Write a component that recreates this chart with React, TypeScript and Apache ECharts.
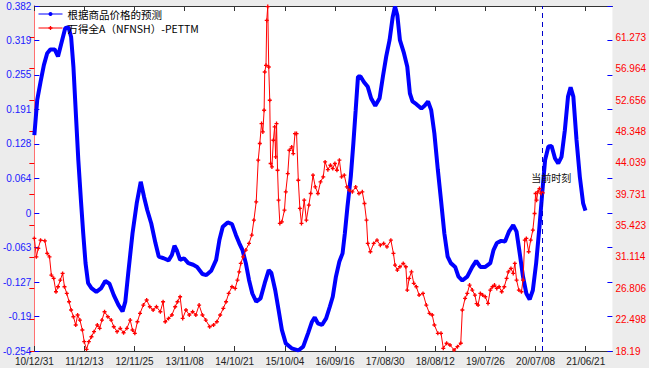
import React, { useEffect, useRef } from "react";
import * as echarts from "echarts";

// x values are days since 2010-12-31
const START_UTC = Date.UTC(2010, 11, 31);
const xTickLabels = ["10/12/31", "11/12/13", "12/11/25", "13/11/08", "14/10/21", "15/10/04", "16/09/16", "17/08/30", "18/08/12", "19/07/26", "20/07/08", "21/06/21"];
const leftTicks = [-0.254, -0.19, -0.127, -0.063, 0, 0.064, 0.128, 0.191, 0.255, 0.319, 0.382];
const rightTicks = [18.19, 22.498, 26.806, 31.114, 35.423, 39.731, 44.039, 48.348, 52.656, 56.964, 61.273];
const seriesNames = ["根据商品价格的预测", "万得全A（NFNSH）-PETTM"];
const currentDay = 3523;
const currentLabel = "当前时刻";

const blueDay = [0, 20, 43, 66, 89, 112, 141, 164, 187, 214, 237, 255, 271, 289, 305, 323, 339, 355, 373, 396, 430, 464, 492, 521, 551, 583, 612, 631, 651, 681, 710, 738, 761, 783, 811, 840, 863, 897, 931, 954, 972, 988, 1011, 1038, 1068, 1102, 1129, 1166, 1193, 1227, 1261, 1284, 1307, 1341, 1371, 1398, 1421, 1444, 1467, 1489, 1512, 1539, 1569, 1598, 1626, 1644, 1671, 1694, 1717, 1744, 1785, 1831, 1865, 1899, 1926, 1945, 1967, 1995, 2024, 2050, 2070, 2092, 2116, 2138, 2154, 2172, 2195, 2213, 2229, 2245, 2263, 2286, 2313, 2336, 2365, 2395, 2418, 2441, 2464, 2486, 2502, 2518, 2536, 2564, 2587, 2605, 2623, 2650, 2685, 2707, 2731, 2753, 2775, 2799, 2821, 2844, 2867, 2889, 2919, 2942, 2969, 3003, 3038, 3065, 3094, 3128, 3163, 3185, 3208, 3238, 3265, 3292, 3322, 3345, 3367, 3390, 3413, 3436, 3458, 3481, 3504, 3523, 3543, 3566, 3588, 3612, 3634, 3657, 3680, 3702, 3720, 3739, 3761, 3784, 3807, 3823];
const blueVal = [0.144, 0.209, 0.242, 0.273, 0.295, 0.302, 0.302, 0.289, 0.313, 0.341, 0.343, 0.325, 0.27, 0.178, 0.098, 0.024, -0.037, -0.092, -0.129, -0.138, -0.145, -0.138, -0.125, -0.13, -0.151, -0.169, -0.181, -0.163, -0.111, -0.037, 0.018, 0.058, 0.03, 0.006, -0.019, -0.055, -0.08, -0.083, -0.087, -0.077, -0.06, -0.068, -0.086, -0.083, -0.092, -0.095, -0.099, -0.112, -0.114, -0.106, -0.086, -0.049, -0.025, -0.017, -0.02, -0.04, -0.055, -0.068, -0.092, -0.123, -0.148, -0.163, -0.157, -0.129, -0.105, -0.11, -0.142, -0.178, -0.215, -0.24, -0.249, -0.253, -0.246, -0.221, -0.2, -0.192, -0.203, -0.206, -0.194, -0.172, -0.154, -0.117, -0.089, -0.074, -0.037, 0.012, 0.067, 0.129, 0.19, 0.252, 0.252, 0.242, 0.233, 0.212, 0.198, 0.212, 0.252, 0.289, 0.319, 0.362, 0.381, 0.365, 0.319, 0.295, 0.27, 0.221, 0.206, 0.201, 0.193, 0.198, 0.206, 0.19, 0.147, 0.08, 0.024, -0.037, -0.08, -0.092, -0.099, -0.117, -0.124, -0.117, -0.099, -0.088, -0.099, -0.099, -0.092, -0.068, -0.055, -0.051, -0.052, -0.034, -0.022, -0.034, -0.074, -0.117, -0.148, -0.159, -0.142, -0.092, -0.025, 0.037, 0.098, 0.123, 0.124, 0.101, 0.092, 0.104, 0.153, 0.215, 0.232, 0.215, 0.135, 0.067, 0.018, 0.005];

const redDay = [0, 14, 27, 43, 73, 89, 105, 118, 134, 150, 164, 180, 196, 209, 225, 241, 255, 271, 287, 300, 316, 333, 346, 362, 378, 396, 414, 437, 453, 469, 487, 510, 533, 551, 574, 596, 619, 642, 665, 681, 697, 715, 733, 756, 779, 801, 824, 847, 874, 893, 908, 931, 954, 977, 993, 1011, 1029, 1052, 1075, 1098, 1120, 1143, 1166, 1189, 1216, 1243, 1266, 1289, 1311, 1330, 1348, 1371, 1393, 1409, 1421, 1432, 1448, 1467, 1489, 1508, 1523, 1539, 1553, 1564, 1576, 1585, 1594, 1598, 1607, 1612, 1619, 1626, 1633, 1639, 1648, 1658, 1667, 1674, 1680, 1687, 1694, 1703, 1717, 1735, 1744, 1758, 1769, 1785, 1796, 1808, 1819, 1831, 1842, 1853, 1872, 1887, 1904, 1917, 1933, 1949, 1967, 1985, 2004, 2017, 2036, 2054, 2070, 2085, 2099, 2116, 2131, 2150, 2168, 2184, 2206, 2229, 2252, 2275, 2290, 2304, 2313, 2331, 2354, 2377, 2400, 2423, 2446, 2473, 2491, 2502, 2518, 2536, 2559, 2577, 2587, 2600, 2616, 2632, 2650, 2669, 2696, 2719, 2741, 2760, 2775, 2799, 2821, 2837, 2860, 2883, 2912, 2935, 2958, 2969, 2988, 3003, 3019, 3038, 3056, 3068, 3078, 3094, 3110, 3128, 3147, 3163, 3178, 3192, 3208, 3224, 3242, 3260, 3276, 3288, 3306, 3322, 3333, 3345, 3361, 3379, 3390, 3402, 3413, 3429, 3443, 3458, 3470, 3477, 3484, 3493, 3504, 3516, 3527];
const redVal = [33.65, 31.13, 32.28, 33.42, 33.32, 31.6, 31.13, 28.62, 28.17, 26.33, 27.01, 27.93, 28.85, 27.01, 26.1, 24.95, 23.82, 22.9, 21.76, 23.13, 22.44, 21.07, 19.47, 18.42, 19.47, 20.15, 20.84, 21.76, 21.3, 22.44, 23.58, 22.9, 22.44, 21.52, 20.84, 21.3, 20.7, 21.3, 22.44, 21.07, 20.62, 22.21, 23.36, 24.5, 25.19, 24.27, 23.82, 24.27, 23.58, 24.95, 22.21, 22.67, 23.13, 24.27, 24.95, 25.64, 22.67, 23.82, 23.13, 23.58, 23.13, 24.5, 23.13, 22.44, 21.52, 21.76, 22.21, 23.13, 24.05, 24.95, 26.1, 27.01, 26.79, 27.93, 29.07, 30.22, 31.13, 32.05, 32.97, 34.11, 36.16, 38.68, 44.4, 46.69, 49.43, 48.28, 51.26, 56.51, 57.43, 63.6, 65.5, 57.2, 52.63, 43.94, 43.48, 47.14, 48.97, 44.85, 49.43, 43.02, 38.91, 35.71, 35.93, 37.54, 40.05, 42.56, 45.77, 46.22, 45.31, 48.05, 48.05, 41.65, 37.77, 35.71, 38.91, 36.16, 38.22, 39.83, 42.34, 40.73, 39.83, 41.42, 42.11, 44.16, 43.1, 43.71, 43.25, 43.94, 43.02, 44.4, 42.11, 42.34, 40.73, 40.28, 40.05, 40.73, 39.83, 40.05, 38.45, 36.16, 32.97, 31.82, 32.97, 33.42, 32.73, 32.97, 32.5, 33.42, 31.6, 29.99, 29.3, 29.76, 30.22, 29.76, 26.56, 28.16, 29.07, 27.48, 27.01, 25.87, 26.1, 24.5, 23.36, 23.13, 21.76, 20.62, 20.62, 18.56, 19.25, 19.01, 18.33, 18.78, 19.25, 23.82, 25.42, 26.1, 27.25, 26.56, 25.87, 24.7, 24.5, 26.1, 25.87, 25.64, 24.73, 26.56, 27.01, 27.25, 26.79, 27.01, 26.33, 27.01, 28.16, 29.07, 29.53, 28.85, 30.22, 27.93, 26.56, 26.33, 27.93, 33.42, 33.65, 31.82, 33.42, 34.79, 37.08, 39.83, 38.91, 40.05, 40.5, 39.83, 39.92];

const labelToDay = (s: string) => {
  const [yy, mm, dd] = s.split("/").map(Number);
  return Math.round((Date.UTC(2000 + yy, mm - 1, dd) - START_UTC) / 86400000);
};
const xTickDays = xTickLabels.map(labelToDay);
const X_MAX = 4010;
const RIGHT_MAX = 65.58;
const FONT = "'Liberation Sans', Arial, sans-serif";
const CJK = "'Noto Sans CJK SC', sans-serif";

export default function App() {
  const ref = useRef<HTMLDivElement>(null);
  useEffect(() => {
    if (!ref.current) return;
    const chart = echarts.init(ref.current, null, { renderer: "svg" });
    const xLabel = (v: number) => {
      const i = xTickDays.indexOf(Math.round(v));
      return i >= 0 ? xTickLabels[i] : "";
    };
    const plus = "path://M1,0H2V1H3V2H2V3H1V2H0V1H1Z";
    chart.setOption({
      animation: false,
      backgroundColor: "#ececec",
      grid: { left: 32, right: 30, top: 6, bottom: 17, show: true, backgroundColor: "#ffffff", borderWidth: 0 },
      legend: {
        data: seriesNames,
        orient: "vertical",
        left: 38,
        top: 8,
        itemWidth: 24,
        itemHeight: 5,
        itemGap: 2,
        padding: 0,
        textStyle: { fontSize: 10.5, lineHeight: 12, color: "#000", fontFamily: CJK },
        lineStyle: { width: 1 },
      },
      xAxis: [
        {
          type: "value", min: 0, max: X_MAX, position: "bottom",
          axisLine: { onZero: false, lineStyle: { color: "#333", width: 1 } },
          axisTick: { inside: true, length: 5, customValues: xTickDays, lineStyle: { color: "#333" } },
          axisLabel: { customValues: xTickDays, formatter: xLabel, fontSize: 10, lineHeight: 10, color: "#222", margin: 5, fontFamily: FONT },
          splitLine: { show: false },
        },
        {
          type: "value", min: 0, max: X_MAX, position: "top",
          axisLine: { onZero: false, lineStyle: { color: "#333", width: 1 } },
          axisTick: { inside: true, length: 5, customValues: xTickDays, lineStyle: { color: "#333" } },
          axisLabel: { show: false },
          splitLine: { show: false },
        },
      ],
      yAxis: [
        {
          type: "value", min: -0.254, max: 0.382, position: "left",
          axisLine: { show: true, lineStyle: { color: "#0000ff", width: 1 } },
          axisTick: { show: true, inside: true, length: 5, customValues: leftTicks, lineStyle: { color: "#0000ff" } },
          axisLabel: { customValues: leftTicks, formatter: (v: number) => String(v), fontSize: 10, lineHeight: 9, color: "#2020ff", margin: 3, fontFamily: FONT },
          splitLine: { show: false },
        },
        {
          type: "value", min: 18.19, max: RIGHT_MAX, position: "right",
          axisLine: { show: true, lineStyle: { color: "#ff7070", width: 1 } },
          axisTick: { show: true, inside: true, length: 5, customValues: rightTicks, lineStyle: { color: "#ff0000" } },
          axisLabel: { customValues: rightTicks, formatter: (v: number) => String(v), fontSize: 10, lineHeight: 10, color: "#ff0000", margin: 3, fontFamily: FONT },
          splitLine: { show: false },
        },
        {
          type: "value", min: -0.254, max: 0.382, position: "right",
          axisLine: { show: false },
          axisTick: { show: true, inside: true, length: 5, customValues: leftTicks, lineStyle: { color: "#0000ff" } },
          axisLabel: { show: false },
          splitLine: { show: false },
        },
      ],
      series: [
        {
          name: seriesNames[0], type: "line", xAxisIndex: 0, yAxisIndex: 0,
          data: blueDay.map((d, i) => [d, blueVal[i]]),
          showSymbol: false, symbol: "circle", symbolSize: 4,
          lineStyle: { color: "#0000ff", width: 4 }, itemStyle: { color: "#0000ff" },
          z: 2,
          markLine: {
            silent: true, symbol: ["none", "none"],
            data: [{ xAxis: currentDay }],
            lineStyle: { type: [5, 4], color: "#0000cc", width: 1 },
            label: { show: false },
          },
          markPoint: {
            silent: true,
            data: [{ coord: [3586, 0.065], symbol: "circle", symbolSize: 1, itemStyle: { color: "rgba(0,0,0,0)" } }],
            label: { show: true, position: "inside", formatter: currentLabel, color: "#111", fontSize: 10, fontFamily: CJK },
          },
        },
        {
          name: seriesNames[1], type: "line", xAxisIndex: 0, yAxisIndex: 1,
          data: redDay.map((d, i) => [d, redVal[i]]),
          symbol: plus, symbolSize: 4, showSymbol: true,
          lineStyle: { color: "#ff0000", width: 1 }, itemStyle: { color: "#ff0000" },
          z: 3,
        },
      ],
    });
    return () => chart.dispose();
  }, []);
  return <div ref={ref} style={{ position: "absolute", left: 0, top: 0, width: 649, height: 368 }} />;
}
